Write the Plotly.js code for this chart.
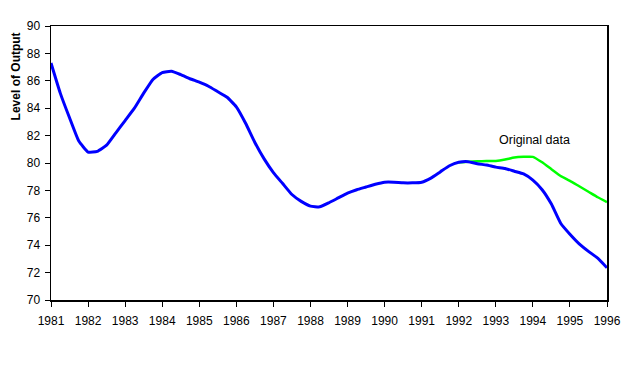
<!DOCTYPE html>
<html>
<head>
<meta charset="utf-8">
<script src="https://cdn.plot.ly/plotly-3.0.1.min.js"></script>
<style>html,body{margin:0;padding:0;background:#fff;}#chart{width:628px;height:368px;}</style>
</head>
<body>
<div id="chart"></div>
<script>
// Blue series (revised), quarterly readings
var blueYears = [1981.00,1981.25,1981.50,1981.75,1982.00,1982.25,1982.50,1982.75,
  1983.00,1983.25,1983.50,1983.75,1984.00,1984.25,1984.50,1984.75,
  1985.00,1985.25,1985.50,1985.75,1986.00,1986.25,1986.50,1986.75,
  1987.00,1987.25,1987.50,1987.75,1988.00,1988.25,1988.50,1988.75,
  1989.00,1989.25,1989.50,1989.75,1990.00,1990.25,1990.50,1990.75,
  1991.00,1991.25,1991.50,1991.75,1992.00,1992.25,1992.50,1992.75,
  1993.00,1993.25,1993.50,1993.75,1994.00,1994.25,1994.50,1994.75,
  1995.00,1995.25,1995.50,1995.75,1996.00];
var blueValues = [87.3,85.1,83.3,81.6,80.8,80.85,81.3,82.2,
  83.1,84.0,85.1,86.1,86.6,86.7,86.45,86.15,
  85.9,85.6,85.2,84.8,84.1,82.9,81.5,80.3,
  79.3,78.5,77.7,77.2,76.85,76.8,77.1,77.45,
  77.8,78.05,78.25,78.45,78.6,78.6,78.55,78.55,
  78.6,78.9,79.35,79.8,80.05,80.1,79.95,79.85,
  79.7,79.6,79.4,79.2,78.75,78.05,77.0,75.6,
  74.8,74.1,73.55,73.05,72.35];
// Green series (original data)
var greenYears = [1992.00,1992.25,1992.50,1992.75,1993.00,1993.25,1993.50,1993.75,
  1994.00,1994.25,1994.50,1994.75,1995.00,1995.25,1995.50,1995.75,1996.00];
var greenValues = [80.05,80.1,80.12,80.15,80.15,80.25,80.4,80.45,
  80.45,80.05,79.55,79.05,78.7,78.3,77.9,77.5,77.15];
var yearTicks = [1981,1982,1983,1984,1985,1986,1987,1988,1989,1990,1991,1992,1993,1994,1995,1996];
var yTicks = [70,72,74,76,78,80,82,84,86,88,90];
var yTitle = "Level of Output";
var seriesLabel = "Original data";

var FONT = "Liberation Sans, Arial, sans-serif";
var traces = [
  {x: greenYears, y: greenValues, type: 'scatter', mode: 'lines',
   line: {color: '#00FF00', width: 2.5, shape: 'spline', smoothing: 0.4}, hoverinfo: 'skip'},
  {x: blueYears, y: blueValues, type: 'scatter', mode: 'lines',
   line: {color: '#0000FF', width: 3, shape: 'spline', smoothing: 0.4}, hoverinfo: 'skip'}
];
var layout = {
  width: 628, height: 368,
  margin: {l: 51, r: 21, t: 26, b: 68},
  paper_bgcolor: '#fff', plot_bgcolor: '#fff',
  showlegend: false,
  font: {family: FONT, size: 12, color: '#000'},
  xaxis: {range: [1981, 1996], tickvals: yearTicks, ticktext: yearTicks.map(String),
    showgrid: false, zeroline: false, showline: true, linecolor: '#000', linewidth: 1.5,
    mirror: true, ticks: 'outside', ticklen: 5, tickwidth: 1, tickcolor: '#000',
    ticklabelstandoff: 4,
    tickfont: {family: FONT, size: 12, color: '#000'}},
  yaxis: {range: [70, 90], tickvals: yTicks, ticktext: yTicks.map(String),
    showgrid: false, zeroline: false, showline: true, linecolor: '#000', linewidth: 1.5,
    mirror: true, ticks: 'outside', ticklen: 5, tickwidth: 1, tickcolor: '#000',
    ticklabelstandoff: 2,
    tickfont: {family: FONT, size: 12, color: '#000'}},
  annotations: [
    {text: yTitle, xref: 'paper', yref: 'paper', x: -0.063, y: 0.816,
     textangle: -90, showarrow: false, font: {family: FONT, size: 12, color: '#000', weight: 'bold'},
     xanchor: 'center', yanchor: 'middle'},
    {text: seriesLabel, xref: 'x', yref: 'y', x: 1994.04, y: 81.7, showarrow: false,
     font: {family: FONT, size: 12.5, color: '#000'}, xanchor: 'center', yanchor: 'middle'}
  ]
};
Plotly.newPlot('chart', traces, layout, {displayModeBar: false, staticPlot: true});
</script>
</body>
</html>
